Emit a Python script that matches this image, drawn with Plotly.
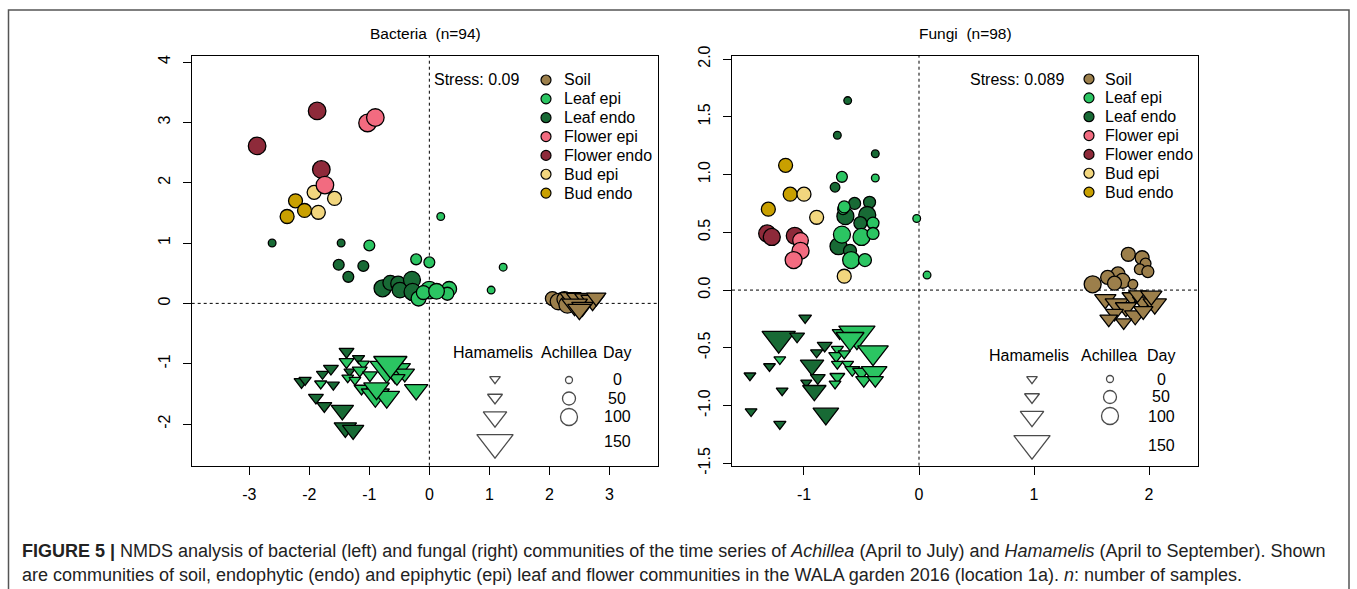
import plotly.graph_objects as go

W, H = 1357, 589

# ---------------- categories / colours ----------------
GROUPS = ["Soil", "Leaf epi", "Leaf endo", "Flower epi", "Flower endo", "Bud epi", "Bud endo"]
GROUP_COLORS = ["#9C7F4B", "#2BC562", "#186A35", "#F26B80", "#8E2A3A", "#F2D67E", "#C9A000"]
DRAW_ORDER = ["Soil", "Leaf endo", "Leaf epi", "Bud endo", "Bud epi", "Flower endo", "Flower epi"]
HOSTS = ["Achillea", "Hamamelis"]          # circle, triangle-down
LEGEND_DAYS_TRI = [0, 50, 100, 150]
LEGEND_DAYS_CIRC = [0, 50, 100]
DAY_LABELS = ["0", "50", "100", "150"]

# ---------------- Bacteria (n=94) ----------------
bac_group = (["Soil"] * 5 + ["Leaf endo"] * 11 + ["Leaf epi"] * 12 + ["Flower endo"] * 3 +
             ["Flower epi"] * 3 + ["Bud epi"] * 3 + ["Bud endo"] * 3 +
             ["Soil"] * 8 + ["Leaf endo"] * 13 + ["Leaf epi"] * 17)
bac_host = ["Achillea"] * 40 + ["Hamamelis"] * 38
bac_x = [2.05, 2.15, 2.25, 2.30, 2.38,
         -2.62, -1.47, -1.51, -1.35, -1.10, -0.78, -0.65, -0.52, -0.49, -0.29, -0.28,
         -1.00, -0.22, 0.00, -0.18, 0.00, 0.33, 0.30, 0.19, 1.23, 1.03, -0.10, 0.12,
         -1.87, -2.87, -1.80,
         -1.03, -0.90, -1.74,
         -1.92, -1.58, -1.85,
         -2.23, -2.08, -2.37,
         2.35, 2.48, 2.60, 2.72, 2.42, 2.55, 2.78, 2.50,
         -1.38, -1.18, -1.64, -1.78, -2.13, -2.07, -1.60, -1.89, -1.75, -1.45, -1.40, -1.27, -1.33,
         -1.38, -1.10, -1.16, -1.81, -1.36, -1.24, -0.99, -1.13, -0.71, -0.57, -0.41, -0.54,
         -0.90, -0.71, -0.22, -0.88, -0.65]
bac_y = [0.08, 0.03, 0.07, -0.02, 0.05,
         1.00, 1.00, 0.64, 0.44, 0.62, 0.25, 0.34, 0.33, 0.22, 0.39, 0.19,
         0.96, 0.73, 0.68, 0.08, 0.22, 0.24, 0.16, 1.44, 0.60, 0.22, 0.18, 0.20,
         3.19, 2.61, 2.22,
         2.99, 3.08, 1.96,
         1.84, 1.74, 1.51,
         1.70, 1.54, 1.44,
         0.10, 0.08, 0.08, 0.05, -0.02, -0.06, 0.10, -0.10,
         -0.80, -0.91, -1.08, -1.17, -1.30, -1.27, -1.35, -1.56, -1.70, -1.77, -2.06, -2.10, -1.13,
         -0.97, -1.00, -1.11, -1.33, -1.23, -1.27, -1.19, -1.41, -1.08, -1.11, -1.16, -1.24,
         -1.52, -1.55, -1.43, -1.41, -1.00]
bac_day = [60, 90, 70, 100, 50,
           5, 5, 30, 30, 30, 100, 70, 70, 80, 100, 100,
           30, 30, 30, 70, 110, 70, 50, 5, 5, 5, 60, 80,
           110, 110, 110,
           110, 110, 110,
           60, 60, 60,
           60, 60, 60,
           90, 100, 90, 100, 110, 90, 80, 100,
           50, 25, 50, 25, 50, 25, 25, 50, 50, 95, 95, 90, 10,
           50, 25, 50, 25, 20, 20, 50, 50, 140, 130, 80, 60,
           120, 110, 100, 110, 140]

# ---------------- Fungi (n=98) ----------------
fun_group = (["Soil"] * 11 + ["Leaf endo"] * 11 + ["Leaf epi"] * 12 + ["Bud epi"] * 3 +
             ["Bud endo"] * 3 + ["Flower endo"] * 3 + ["Flower epi"] * 3 +
             ["Soil"] * 13 + ["Leaf endo"] * 15 + ["Leaf epi"] * 17)
fun_host = ["Achillea"] * 46 + ["Hamamelis"] * 45
fun_x = [1.82, 1.94, 1.97, 1.92, 1.99, 1.73, 1.64, 1.77, 1.51, 1.86, 1.70,
         -0.62, -0.71, -0.38, -0.73, -0.56, -0.43, -0.64, -0.45, -0.51, -0.70, -0.60,
         -0.67, -0.38, -0.66, -0.67, -0.50, -0.40, -0.40, -0.59, -0.47, -0.02, 0.07, -0.65,
         -1.00, -0.89, -0.65,
         -1.16, -1.12, -1.31,
         -1.32, -1.28, -1.08,
         -1.03, -1.03, -1.09,
         1.62, 1.72, 1.85, 1.95, 2.05, 1.80, 1.70, 1.88, 1.78, 1.65, 1.95, 1.90, 2.02,
         -0.99, -1.22, -1.06, -1.47, -1.30, -1.46, -1.21, -1.19, -0.82, -0.89, -0.93, -0.88, -0.98, -0.91, -0.81,
         -1.21, -0.69, -0.71, -0.72, -0.65, -0.71, -0.62, -0.71, -0.73, -0.58, -0.54, -0.40, -0.50, -0.39,
         -0.48, -0.38, -0.60]
fun_y = [0.31, 0.28, 0.23, 0.18, 0.16, 0.14, 0.11, 0.08, 0.05, 0.05, 0.06,
         1.64, 1.34, 1.18, 0.89, 0.75, 0.76, 0.64, 0.65, 0.58, 0.38, 0.34,
         0.98, 0.97, 0.70, 0.48, 0.46, 0.58, 0.49, 0.26, 0.26, 0.62, 0.13, 0.72,
         0.83, 0.63, 0.12,
         1.08, 0.83, 0.70,
         0.49, 0.46, 0.47,
         0.43, 0.34, 0.26,
         -0.08, -0.12, -0.06, -0.10, -0.12, -0.15, -0.20, -0.22, -0.28, -0.25, -0.18, -0.04, -0.05,
         -0.24, -0.42, -0.40, -0.74, -0.66, -1.05, -1.16, -0.87, -0.48, -0.54, -0.65, -0.76, -0.80, -0.87, -1.07,
         -0.60, -0.37, -0.51, -0.57, -0.55, -0.64, -0.64, -0.75, -0.81, -0.69, -0.38, -0.54, -0.71, -0.71,
         -0.78, -0.78, -0.42]
fun_day = [60, 60, 30, 30, 40, 60, 60, 70, 100, 20, 60,
           5, 5, 5, 20, 40, 40, 100, 100, 50, 100, 50,
           30, 5, 30, 100, 100, 40, 40, 100, 50, 5, 5, 40,
           60, 60, 60,
           60, 60, 60,
           100, 100, 100,
           80, 100, 100,
           90, 100, 80, 90, 100, 90, 70, 90, 60, 70, 80, 70, 90,
           30, 140, 50, 20, 20, 20, 25, 20, 50, 25, 100, 50, 10, 100, 110,
           20, 50, 25, 50, 25, 20, 20, 50, 20, 50, 150, 130, 70, 110,
           60, 60, 120]

# ---------------- texts ----------------
TITLES = ["Bacteria\u00a0 (n=94)", "Fungi\u00a0 (n=98)"]
STRESS = ["Stress: 0.09", "Stress: 0.089"]
CAPTION_1 = ("<b>FIGURE 5 |</b> NMDS analysis of bacterial (left) and fungal (right) communities of the time series of "
             "<i>Achillea</i> (April to July) and <i>Hamamelis</i> (April to September). Shown")
CAPTION_2 = ("are communities of soil, endophytic (endo) and epiphytic (epi) leaf and flower communities in the "
             "WALA garden 2016 (location 1a). <i>n</i>: number of samples.")


# ---------------- styling helpers ----------------
def circ_size(d):
    return 7 + 0.14 * d - 0.0004 * d * d


def tri_size(d):
    return (10 + 0.04 * d + 0.0008 * d * d) / 1.08


FONT = "Liberation Sans, Arial, Helvetica, sans-serif"
TXT = 16
color_of = dict(zip(GROUPS, GROUP_COLORS))


def px(x):
    return x / W


def py(y):
    return 1 - y / H


fig = go.Figure()

panels = [
    dict(xa="x", ya="y", g=bac_group, h=bac_host, x=bac_x, y=bac_y, d=bac_day),
    dict(xa="x2", ya="y2", g=fun_group, h=fun_host, x=fun_x, y=fun_y, d=fun_day),
]

for p in panels:
    for host in HOSTS:
        for grp in DRAW_ORDER:
            idx = [i for i in range(len(p["x"])) if p["g"][i] == grp and p["h"][i] == host]
            if not idx:
                continue
            sizes = [(circ_size if host == "Achillea" else tri_size)(p["d"][i]) for i in idx]
            fig.add_trace(go.Scatter(
                x=[p["x"][i] for i in idx], y=[p["y"][i] for i in idx],
                xaxis=p["xa"], yaxis=p["ya"], mode="markers", hoverinfo="skip",
                marker=dict(symbol="circle" if host == "Achillea" else "triangle-down",
                            size=sizes, color=color_of[grp],
                            line=dict(color="black", width=1.3), opacity=1),
            ))

# ---------------- legends (pixel overlay axis) ----------------
LEG = [
    dict(stress_x=521, stress_y=80, dot_x=546, text_x=562, row0=80, dy=18.85,
         head_y=352, tri_x=495, circ_x=569, day_x=617,
         head_xs=[493, 569, 617], tri_ys=[379, 397.5, 417, 442.5], circ_ys=[380, 398.5, 417],
         day_ys=[379, 398, 416.7, 441.7]),
    dict(stress_x=1066, stress_y=79, dot_x=1089, text_x=1103, row0=79, dy=18.85,
         head_y=355, tri_x=1032, circ_x=1110, day_x=1161,
         head_xs=[1029, 1109, 1161], tri_ys=[379, 397, 416.5, 443.5], circ_ys=[379, 397, 416],
         day_ys=[379, 396.7, 416.7, 445]),
]

annotations = []
for L in LEG:
    fig.add_trace(go.Scatter(
        x=[L["dot_x"]] * len(GROUPS), y=[L["row0"] + k * L["dy"] for k in range(len(GROUPS))],
        xaxis="x3", yaxis="y3", mode="markers", hoverinfo="skip",
        marker=dict(symbol="circle", size=10, color=GROUP_COLORS, line=dict(color="black", width=1.2))))
    for k, g in enumerate(GROUPS):
        annotations.append(dict(x=px(L["text_x"]), y=py(L["row0"] + k * L["dy"]), xref="paper", yref="paper",
                                text=g, showarrow=False, xanchor="left", yanchor="middle",
                                font=dict(size=TXT, family=FONT, color="black")))
    fig.add_trace(go.Scatter(
        x=[L["tri_x"]] * len(LEGEND_DAYS_TRI), y=L["tri_ys"], xaxis="x3", yaxis="y3",
        mode="markers", hoverinfo="skip",
        marker=dict(symbol="triangle-down", size=[tri_size(d) for d in LEGEND_DAYS_TRI],
                    color="white", line=dict(color="black", width=1.3))))
    fig.add_trace(go.Scatter(
        x=[L["circ_x"]] * len(LEGEND_DAYS_CIRC), y=L["circ_ys"], xaxis="x3", yaxis="y3",
        mode="markers", hoverinfo="skip",
        marker=dict(symbol="circle", size=[circ_size(d) for d in LEGEND_DAYS_CIRC],
                    color="white", line=dict(color="black", width=1.3))))
    for t, hx in zip(["Hamamelis", "Achillea", "Day"], L["head_xs"]):
        annotations.append(dict(x=px(hx), y=py(L["head_y"]), xref="paper", yref="paper", text=t,
                                showarrow=False, xanchor="center", yanchor="middle",
                                font=dict(size=TXT, family=FONT, color="black")))
    for t, dyy in zip(DAY_LABELS, L["day_ys"]):
        annotations.append(dict(x=px(L["day_x"]), y=py(dyy), xref="paper", yref="paper", text=t,
                                showarrow=False, xanchor="center", yanchor="middle",
                                font=dict(size=TXT, family=FONT, color="black")))

for t, sx, sy in zip(STRESS, [LEG[0]["stress_x"], LEG[1]["stress_x"]], [LEG[0]["stress_y"], LEG[1]["stress_y"]]):
    annotations.append(dict(x=px(sx), y=py(sy), xref="paper", yref="paper", text=t, showarrow=False,
                            xanchor="right", yanchor="middle", font=dict(size=TXT, family=FONT, color="black")))

for t, tx in zip(TITLES, [425, 965]):
    annotations.append(dict(x=px(tx), y=py(34), xref="paper", yref="paper", text=t, showarrow=False,
                            xanchor="center", yanchor="middle", font=dict(size=15.5, family=FONT, color="black")))

annotations.append(dict(x=px(20), y=py(551), xref="paper", yref="paper", text=CAPTION_1, showarrow=False,
                        xanchor="left", yanchor="middle", font=dict(size=18, family=FONT, color="#222")))
annotations.append(dict(x=px(20), y=py(575), xref="paper", yref="paper", text=CAPTION_2, showarrow=False,
                        xanchor="left", yanchor="middle", font=dict(size=18, family=FONT, color="#222")))

# ---------------- axes ----------------
axis_common = dict(showline=True, mirror=True, linecolor="black", linewidth=1.4, ticks="outside",
                   ticklen=8, tickwidth=1.2, tickcolor="black", showgrid=False, zeroline=False,
                   tickfont=dict(size=TXT, family=FONT, color="black"), fixedrange=True, automargin=False)

YDOM = [py(465.7), py(56)]
fig.update_layout(
    xaxis=dict(domain=[px(191.7), px(658)], range=[-3.96, 3.81], anchor="y",
               tickvals=[-3, -2, -1, 0, 1, 2, 3], ticktext=["-3", "-2", "-1", "0", "1", "2", "3"],
               ticklabelstandoff=6, **axis_common),
    yaxis=dict(domain=YDOM, range=[-2.69, 4.1], anchor="x",
               tickvals=[-2, -1, 0, 1, 2, 3, 4], ticktext=["-2", "-1", "0", "1", "2", "3", "4"],
               tickangle=-90, ticklabelstandoff=6, **axis_common),
    xaxis2=dict(domain=[px(732), px(1198)], range=[-1.626, 2.426], anchor="y2",
                tickvals=[-1, 0, 1, 2], ticktext=["-1", "0", "1", "2"], ticklabelstandoff=6, **axis_common),
    yaxis2=dict(domain=YDOM, range=[-1.52, 2.026], anchor="x2",
                tickvals=[-1.5, -1.0, -0.5, 0.0, 0.5, 1.0, 1.5, 2.0],
                ticktext=["-1.5", "-1.0", "-0.5", "0.0", "0.5", "1.0", "1.5", "2.0"],
                tickangle=-90, ticklabelstandoff=6, **axis_common),
    xaxis3=dict(domain=[0, 1], range=[0, W], visible=False, anchor="y3", fixedrange=True),
    yaxis3=dict(domain=[0, 1], range=[H, 0], visible=False, anchor="x3", fixedrange=True),
)

shapes = []
for xa, ya in [("x", "y"), ("x2", "y2")]:
    shapes.append(dict(type="line", xref=xa, yref=ya + " domain", x0=0, x1=0, y0=0, y1=1,
                       line=dict(color="black", width=1, dash="dot"), layer="below"))
    shapes.append(dict(type="line", xref=xa + " domain", yref=ya, x0=0, x1=1, y0=0, y1=0,
                       line=dict(color="black", width=1, dash="dot"), layer="below"))
shapes.append(dict(type="rect", xref="paper", yref="paper", x0=px(8.5), x1=px(1349), y0=-0.05, y1=py(10),
                   line=dict(color="#555", width=1.5), fillcolor="rgba(0,0,0,0)"))

fig.update_layout(
    width=W, height=H, margin=dict(l=0, r=0, t=0, b=0, pad=0, autoexpand=False),
    paper_bgcolor="white", plot_bgcolor="rgba(0,0,0,0)", showlegend=False,
    font=dict(family=FONT, size=TXT, color="black"),
    annotations=annotations, shapes=shapes,
)

fig.write_html("out.html")
